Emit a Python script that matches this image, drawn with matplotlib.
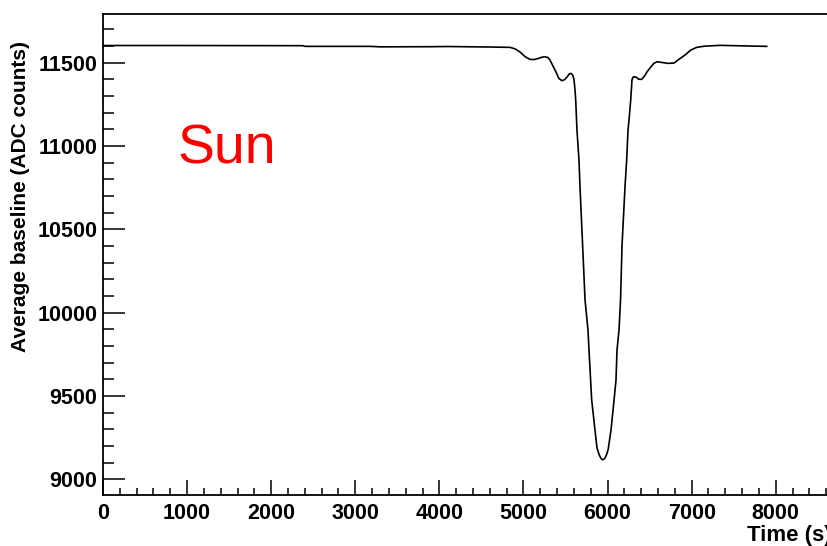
import matplotlib
matplotlib.use("Agg")
import matplotlib.pyplot as plt
from matplotlib.ticker import MultipleLocator

plt.rcParams['font.family'] = ['Liberation Sans', 'DejaVu Sans']

# average baseline vs time (s) during the sun transit
time_s = [0, 1000, 2380, 2400, 3175, 3300, 3900, 4100, 4602, 4840, 4900, 4959,
          5020, 5077, 5130, 5173, 5220, 5256, 5290, 5315, 5350, 5387, 5420,
          5458, 5490, 5518, 5545, 5565, 5585, 5600, 5612, 5621, 5636, 5660,
          5672, 5703, 5732, 5767, 5779, 5811, 5850, 5874, 5900, 5920, 5942,
          5965, 5985, 6007, 6041, 6077, 6100, 6112, 6136, 6154, 6172, 6207,
          6227, 6243, 6255, 6275, 6290, 6300, 6314, 6340, 6370, 6406, 6440,
          6470, 6504, 6550, 6590, 6650, 6720, 6790, 6850, 6921, 6990, 7060,
          7150, 7337, 7600, 7892]
baseline = [11602, 11602, 11601, 11597, 11597, 11594, 11595, 11596, 11593, 11591,
            11582, 11563, 11535, 11519, 11518, 11524, 11532, 11535, 11530, 11515,
            11480, 11443, 11405, 11391, 11398, 11413, 11432, 11435, 11425, 11400,
            11340, 11275, 11095, 10915, 10754, 10406, 10076, 9896, 9776, 9477,
            9297, 9190, 9148, 9128, 9118, 9125, 9145, 9180, 9297, 9477, 9596,
            9776, 9896, 10076, 10406, 10754, 10915, 11095, 11155, 11275, 11395,
            11410, 11415, 11412, 11400, 11399, 11420, 11445, 11467, 11495, 11505,
            11500, 11495, 11497, 11520, 11545, 11575, 11591, 11598, 11603, 11600,
            11597]

x_major = 1000
x_minor = 200
y_major = 500
y_minor = 100

fig = plt.figure(figsize=(8.28, 5.46), dpi=100)
ax = fig.add_axes([103 / 828, 51 / 546, 1 - 103 / 828, 481 / 546])

ax.plot(time_s, baseline, color='black', linewidth=1.2)

ax.set_xlim(0, 8621)
ax.set_ylim(8907, 11791)
ax.spines['right'].set_visible(False)
for s in ['left', 'bottom', 'top']:
    ax.spines[s].set_linewidth(1.3)

ax.xaxis.set_major_locator(MultipleLocator(x_major))
ax.xaxis.set_minor_locator(MultipleLocator(x_minor))
ax.yaxis.set_major_locator(MultipleLocator(y_major))
ax.yaxis.set_minor_locator(MultipleLocator(y_minor))

ax.tick_params(axis='y', which='major', direction='in', length=16, width=1.1,
               labelsize=15.5, pad=4)
ax.tick_params(axis='y', which='minor', direction='in', length=8, width=1.1)
ax.tick_params(axis='x', which='major', direction='in', length=11, width=1.1,
               labelsize=15.5, pad=6)
ax.tick_params(axis='x', which='minor', direction='in', length=5, width=1.1)
for lab in ax.get_xticklabels() + ax.get_yticklabels():
    lab.set_fontweight('bold')

fig.text(21 / 828, 1 - 352 / 546, 'Average baseline (ADC counts)', rotation=90,
         ha='center', va='bottom', fontsize=15, fontweight='bold')
fig.text(747 / 828, 1 - 541 / 546, 'Time (s)', ha='left', va='baseline',
         fontsize=16, fontweight='bold')
fig.text(178 / 828, 1 - 163 / 546, 'Sun', color='red', fontsize=40,
         ha='left', va='baseline')

fig.savefig('out.png', dpi=100)
